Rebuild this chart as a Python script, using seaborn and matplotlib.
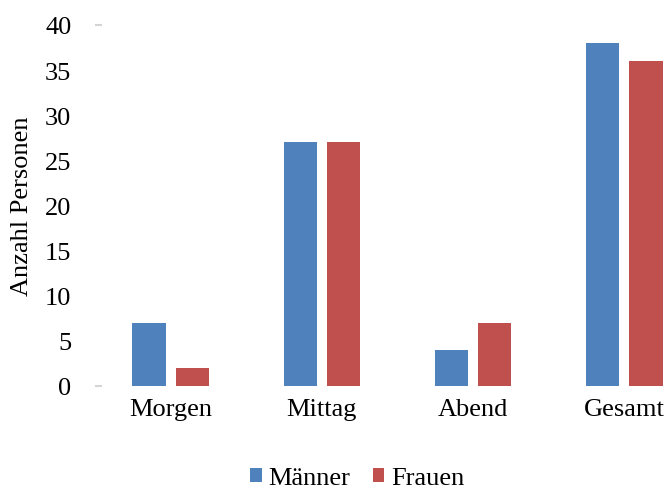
import pandas as pd
import matplotlib.pyplot as plt
import seaborn as sns

zeiten = ["Morgen", "Mittag", "Abend", "Gesamt"]
maenner = [7, 27, 4, 38]
frauen = [2, 27, 7, 36]
gruppen = ["Männer", "Frauen"]
farben = ["#4F81BD", "#C0504D"]

df = pd.DataFrame({
    "Zeit": zeiten * 2,
    "Anzahl": maenner + frauen,
    "Geschlecht": [gruppen[0]] * len(zeiten) + [gruppen[1]] * len(zeiten),
})

sns.set_style("white")
plt.rcParams["font.family"] = ["Liberation Serif", "DejaVu Serif"]
plt.rcParams["font.size"] = 19
plt.rcParams["text.color"] = "black"
plt.rcParams["axes.labelcolor"] = "black"
plt.rcParams["xtick.color"] = "black"
plt.rcParams["ytick.color"] = "black"

fig = plt.figure(figsize=(6.69, 4.89), dpi=100)
# axes run past the right edge on purpose, like the original
ax = fig.add_axes([95 / 669, 102 / 489, 605 / 669, 361 / 489])

sns.barplot(data=df, x="Zeit", y="Anzahl", hue="Geschlecht",
            palette=farben, saturation=1, width=0.573, gap=0.233, ax=ax,
            edgecolor="none", linewidth=0, legend=True)

ax.set_ylim(0, 40)
ax.set_xlim(-0.5, 3.5)
ax.set_yticks(range(0, 41, 5))
# the faint little marks at 0 and 40
ax.yaxis.remove_overlapping_locs = False
ax.set_yticks([0, 40], minor=True)
ax.tick_params(axis="y", which="major", left=True, length=0, pad=17,
               labelsize=19, labelcolor="black")
ax.tick_params(axis="y", which="minor", left=True, length=5, direction="in",
               color="#d4d4d4", width=1.5)
ax.tick_params(axis="x", length=0, pad=9, labelsize=19, labelcolor="black")
ax.set_xlabel("")
ax.set_ylabel("Anzahl Personen", fontsize=19, color="black")
ax.yaxis.set_label_coords(-0.103, 0.5)
for s in ax.spines.values():
    s.set_visible(False)

handles, labels = ax.get_legend_handles_labels()
ax.get_legend().remove()
fig.legend(handles, labels, loc="center", bbox_to_anchor=(357 / 669, 10 / 489),
           ncol=2, frameon=False, fontsize=19, handlelength=0.45,
           handleheight=0.45, handletextpad=0.25, columnspacing=0.85,
           borderpad=0, borderaxespad=0, labelcolor="black")

fig.savefig("out.png", dpi=100)
